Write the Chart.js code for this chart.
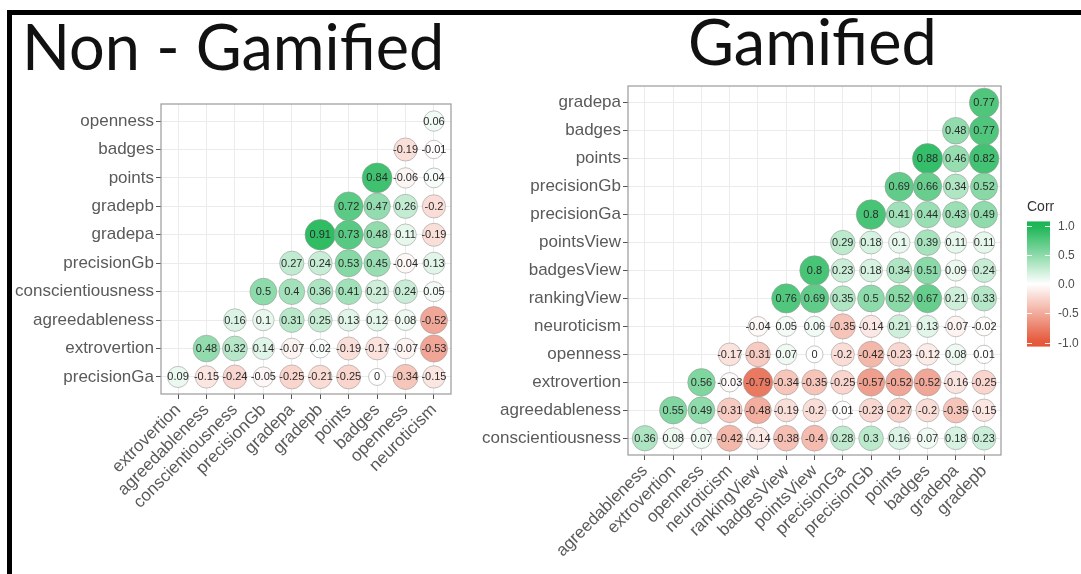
<!DOCTYPE html>
<html>
<head>
<meta charset="utf-8">
<script src="https://cdn.jsdelivr.net/npm/chart.js@4.4.1/dist/chart.umd.min.js"></script>
<style>
  html, body { margin: 0; padding: 0; background: #fff; width: 1081px; height: 574px; overflow: hidden; position: relative; }
  canvas { position: absolute; top: 0; }
  #c1 { left: 0; }
  #c2 { left: 480px; }
  #frame { position: absolute; left: 7px; top: 10px; width: 1074px; height: 564px; border-top: 5px solid #000; border-left: 5px solid #000; box-sizing: border-box; pointer-events: none; }
  .title { position: absolute; font-family: Lato, 'Open Sans', sans-serif; font-size: 63px; line-height: 63px; color: #111; white-space: nowrap; }
  #t1 { left: 22px; top: 14px; }
  #t2 { left: 688px; top: 9px; }
</style>
</head>
<body>
<div class="title" id="t1">Non - Gamified</div>
<div class="title" id="t2">Gamified</div>
<canvas id="c1" width="480" height="574"></canvas>
<canvas id="c2" width="601" height="574"></canvas>
<div id="frame"></div>
<script>
// ---- Non-gamified group: lower-triangle correlation matrix (rows listed top to bottom) ----
const ngCols = ['extrovertion', 'agreedableness', 'conscientiousness', 'precisionGb', 'gradepa', 'gradepb', 'points', 'badges', 'openness', 'neuroticism'];
const ngRows = ['openness', 'badges', 'points', 'gradepb', 'gradepa', 'precisionGb', 'conscientiousness', 'agreedableness', 'extrovertion', 'precisionGa'];
const ngCorr = [
  [0.06],
  [-0.19, -0.01],
  [0.84, -0.06, 0.04],
  [0.72, 0.47, 0.26, -0.2],
  [0.91, 0.73, 0.48, 0.11, -0.19],
  [0.27, 0.24, 0.53, 0.45, -0.04, 0.13],
  [0.5, 0.4, 0.36, 0.41, 0.21, 0.24, 0.05],
  [0.16, 0.1, 0.31, 0.25, 0.13, 0.12, 0.08, -0.52],
  [0.48, 0.32, 0.14, -0.07, 0.02, -0.19, -0.17, -0.07, -0.53],
  [0.09, -0.15, -0.24, -0.05, -0.25, -0.21, -0.25, 0, -0.34, -0.15]
];

// ---- Gamified group ----
const gCols = ['agreedableness', 'extrovertion', 'openness', 'neuroticism', 'rankingView', 'badgesView', 'pointsView', 'precisionGa', 'precisionGb', 'points', 'badges', 'gradepa', 'gradepb'];
const gRows = ['gradepa', 'badges', 'points', 'precisionGb', 'precisionGa', 'pointsView', 'badgesView', 'rankingView', 'neuroticism', 'openness', 'extrovertion', 'agreedableness', 'conscientiousness'];
const gCorr = [
  [0.77],
  [0.48, 0.77],
  [0.88, 0.46, 0.82],
  [0.69, 0.66, 0.34, 0.52],
  [0.8, 0.41, 0.44, 0.43, 0.49],
  [0.29, 0.18, 0.1, 0.39, 0.11, 0.11],
  [0.8, 0.23, 0.18, 0.34, 0.51, 0.09, 0.24],
  [0.76, 0.69, 0.35, 0.5, 0.52, 0.67, 0.21, 0.33],
  [-0.04, 0.05, 0.06, -0.35, -0.14, 0.21, 0.13, -0.07, -0.02],
  [-0.17, -0.31, 0.07, 0, -0.2, -0.42, -0.23, -0.12, 0.08, 0.01],
  [0.56, -0.03, -0.79, -0.34, -0.35, -0.25, -0.57, -0.52, -0.52, -0.16, -0.25],
  [0.55, 0.49, -0.31, -0.48, -0.19, -0.2, 0.01, -0.23, -0.27, -0.2, -0.35, -0.15],
  [0.36, 0.08, 0.07, -0.42, -0.14, -0.38, -0.4, 0.28, 0.3, 0.16, 0.07, 0.18, 0.23]
];

// Colour legend ticks
const legendTicks = [1.0, 0.5, 0.0, -0.5, -1.0];

// Diverging palette: red (-1) -> white (0) -> green (+1)
const HIGH = [26, 181, 84];
const LOW = [229, 86, 56];
function corrColor(v) {
  const t = Math.min(1, Math.abs(v));
  const end = v >= 0 ? HIGH : LOW;
  const c = end.map(e => Math.round(255 + (e - 255) * t));
  return `rgb(${c[0]},${c[1]},${c[2]})`;
}
function corrRadius(v) {
  return 8.5 + 7 * Math.sqrt(Math.abs(v));
}

// Turn a lower-triangle matrix into bubble points: row i (top = 0) starts at column n-1-i
function toPoints(matrix, n) {
  const pts = [];
  matrix.forEach((row, i) => {
    const start = n - 1 - i;
    row.forEach((v, k) => pts.push({ x: start + k, y: i, r: corrRadius(v), v: v }));
  });
  return pts;
}

const frameBox = {
  id: 'frameBox',
  beforeDatasetsDraw(chart) {
    const a = chart.chartArea, ctx = chart.ctx;
    ctx.save();
    ctx.strokeStyle = '#9a9a9a';
    ctx.lineWidth = 1.2;
    ctx.strokeRect(a.left, a.top, a.right - a.left, a.bottom - a.top);
    ctx.restore();
  }
};

const cellLabels = {
  id: 'cellLabels',
  afterDatasetsDraw(chart) {
    const ctx = chart.ctx;
    const meta = chart.getDatasetMeta(0);
    const data = chart.data.datasets[0].data;
    ctx.save();
    ctx.font = '11px "Liberation Sans", Arial, sans-serif';
    ctx.fillStyle = '#2b2b2b';
    ctx.textAlign = 'center';
    ctx.textBaseline = 'middle';
    meta.data.forEach((el, i) => {
      ctx.fillText(String(data[i].v), el.x, el.y + 0.5);
    });
    ctx.restore();
  }
};

function axisFont() {
  return { family: '"Liberation Sans", Arial, sans-serif', size: 17 };
}

function makeMatrix(canvasId, cols, rows, matrix, layout, extraPlugins) {
  const n = cols.length;
  return new Chart(document.getElementById(canvasId), {
    type: 'bubble',
    data: {
      datasets: [{
        data: toPoints(matrix, n),
        backgroundColor: ctx => corrColor(ctx.raw.v),
        borderColor: 'rgba(150,150,150,0.55)',
        borderWidth: 1,
        clip: false
      }]
    },
    options: {
      responsive: false,
      animation: false,
      events: [],
      layout: { padding: layout.padding },
      plugins: { legend: { display: false }, tooltip: { enabled: false } },
      scales: {
        x: {
          type: 'linear',
          min: -0.6,
          max: n - 0.4,
          afterBuildTicks: s => { s.ticks = cols.map((_, i) => ({ value: i })); },
          afterFit: s => { s.height = layout.xAxisHeight; },
          ticks: {
            autoSkip: false, minRotation: 45, maxRotation: 45,
            callback: v => cols[v], font: axisFont(), color: '#5a5a5a', padding: 1
          },
          grid: { color: '#ebebeb', lineWidth: 1, tickColor: '#555', tickLength: 5 },
          border: { display: false }
        },
        y: {
          type: 'linear',
          reverse: true,
          min: -0.6,
          max: n - 0.4,
          afterBuildTicks: s => { s.ticks = rows.map((_, i) => ({ value: i })); },
          afterFit: s => { s.width = layout.yAxisWidth; },
          ticks: {
            autoSkip: false,
            callback: v => rows[v], font: axisFont(), color: '#5a5a5a', padding: 2
          },
          grid: { color: '#ebebeb', lineWidth: 1, tickColor: '#555', tickLength: 5 },
          border: { display: false }
        }
      }
    },
    plugins: [frameBox, cellLabels].concat(extraPlugins || [])
  });
}

// Colour bar legend for the gamified panel
const corrLegend = {
  id: 'corrLegend',
  afterDraw(chart) {
    const ctx = chart.ctx;
    const x0 = 547, w = 23;
    const yMid = 284, half = 58.5;
    const yTop = yMid - half * 1.07, yBot = yMid + half * 1.07;
    ctx.save();
    ctx.font = '14px "Liberation Sans", Arial, sans-serif';
    ctx.fillStyle = '#333';
    ctx.textAlign = 'left';
    ctx.textBaseline = 'alphabetic';
    ctx.fillText('Corr', x0, 211);
    const grad = ctx.createLinearGradient(0, yTop, 0, yBot);
    for (let k = 0; k <= 20; k++) {
      const v = 1.07 - k * 2.14 / 20;
      grad.addColorStop(k / 20, corrColor(Math.max(-1, Math.min(1, v))));
    }
    ctx.fillStyle = grad;
    ctx.fillRect(x0, yTop, w, yBot - yTop);
    ctx.strokeStyle = 'rgba(255,255,255,0.9)';
    ctx.lineWidth = 1;
    ctx.font = '12px "Liberation Sans", Arial, sans-serif';
    ctx.textBaseline = 'middle';
    legendTicks.forEach(t => {
      const y = Math.round(yMid - half * t) + 0.5;
      ctx.beginPath();
      ctx.moveTo(x0, y); ctx.lineTo(x0 + 5, y);
      ctx.moveTo(x0 + w - 5, y); ctx.lineTo(x0 + w, y);
      ctx.stroke();
      ctx.fillStyle = '#4d4d4d';
      ctx.fillText(t.toFixed(1), x0 + w + 8, y);
    });
    ctx.restore();
  }
};

makeMatrix('c1', ngCols, ngRows, ngCorr,
  { padding: { top: 104, right: 29, left: 0, bottom: 0 }, yAxisWidth: 161, xAxisHeight: 180 });

makeMatrix('c2', gCols, gRows, gCorr,
  { padding: { top: 86, right: 80, left: 0, bottom: 0 }, yAxisWidth: 148, xAxisHeight: 119 }, [corrLegend]);
</script>
</body>
</html>
